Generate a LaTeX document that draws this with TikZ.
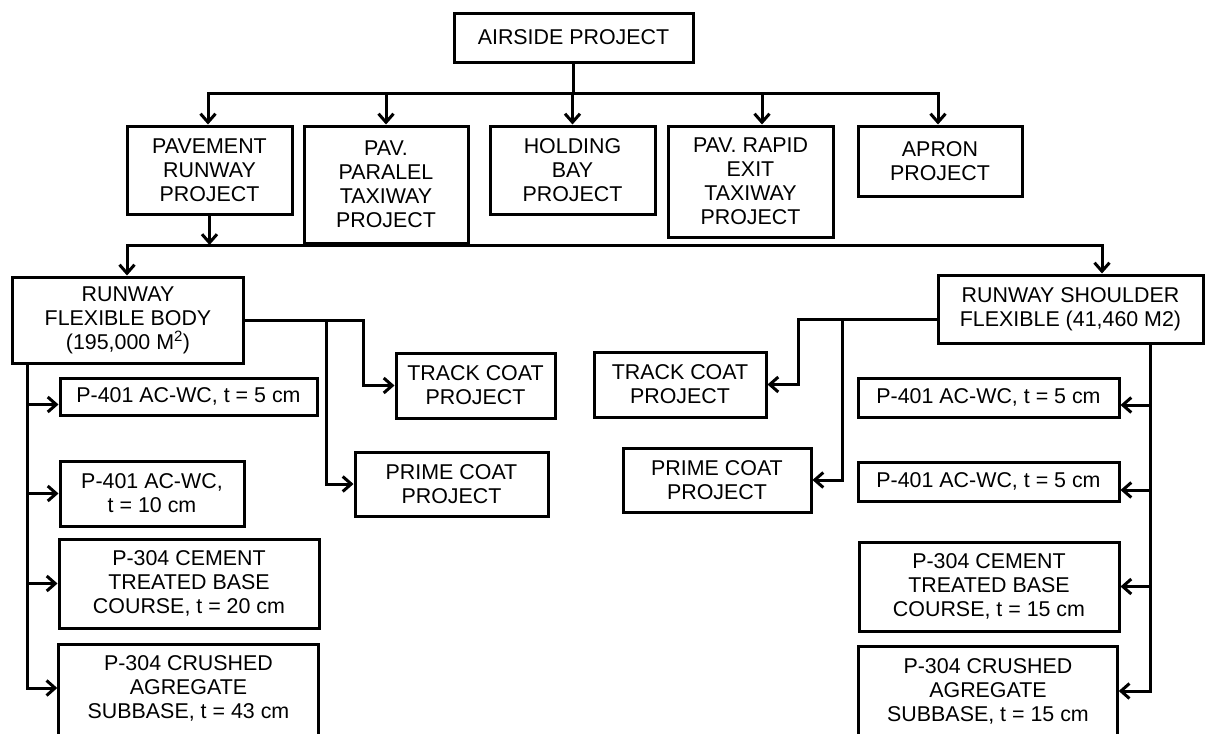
\documentclass[tikz,border=0pt]{standalone}
\usepackage{fontspec}
\setmainfont{Liberation Sans}
\usetikzlibrary{arrows.meta}
\begin{document}
\begin{tikzpicture}[x=1pt,y=-1pt,
  box/.style={draw, line width=3pt, inner sep=0pt, align=center, font=\fontsize{21.4}{24}\selectfont},
  txt/.style={inner sep=0pt, align=center, font=\fontsize{21.4}{24}\selectfont},
  conn/.style={line width=3pt, line cap=rect},
  arr/.style={conn, -{Straight Barb[length=8.5pt,width=15pt]}}]
\clip (0,0) rectangle (1211,734);
\fill[white] (0,0) rectangle (1211,734);
% level 1
\node[box,minimum width=239pt,minimum height=49pt] (air) at (573.5,37.5) {AIRSIDE PROJECT};
% level 2
\node[box,minimum width=165pt,minimum height=88pt] (pav) at (209.5,170) {PAVEMENT\\RUNWAY\\PROJECT};
\node[box,minimum width=164pt,minimum height=117pt] (par) at (386,184.5) {PAV.\\PARALEL\\TAXIWAY\\PROJECT};
\node[box,minimum width=165pt,minimum height=88pt] (hold) at (572.5,170) {HOLDING\\BAY\\PROJECT};
\node[box,minimum width=165pt,minimum height=111pt] (rapid) at (750.5,181.5) {PAV. RAPID\\EXIT\\TAXIWAY\\PROJECT};
\node[box,minimum width=164pt,minimum height=70pt] (apron) at (940,161) {APRON\\PROJECT};
% level 3
\node[box,minimum width=231pt,minimum height=86pt] (rfb) at (128,320) {RUNWAY\\FLEXIBLE BODY\\(195,000 M\textsuperscript{2})};
\node[box,minimum width=265pt,minimum height=68pt] (rsf) at (1070.5,309) {RUNWAY SHOULDER\\FLEXIBLE (41,460 M2)};
\node[box,minimum width=159pt,minimum height=65pt] (tcL) at (475.5,385.5) {TRACK COAT\\PROJECT};
\node[box,minimum width=193pt,minimum height=64pt] (pcL) at (451.5,484) {PRIME COAT\\PROJECT};
\node[box,minimum width=172pt,minimum height=65pt] (tcR) at (680,384.5) {TRACK COAT\\PROJECT};
\node[box,minimum width=188pt,minimum height=64pt] (pcR) at (717,480) {PRIME COAT\\PROJECT};
% left layers
\node[box,minimum width=257pt,minimum height=37pt] (L1) at (188.5,396.5) {P-401 AC-WC, t = 5 cm};
\node[box,minimum width=184pt,minimum height=65pt] (L2) at (152,493.5) {P-401 AC-WC,\\t = 10 cm};
\node[box,minimum width=260pt,minimum height=89pt] (L3) at (189,583.5) {P-304 CEMENT\\TREATED BASE\\COURSE, t = 20 cm};
\node[txt,minimum width=259pt,minimum height=86pt] (L4) at (188.5,688) {P-304 CRUSHED\\AGREGATE\\SUBBASE, t = 43 cm};
\draw[line width=3pt] ([yshift=-30pt]L4.south west) -- (L4.north west) -- (L4.north east) -- ([yshift=-30pt]L4.south east);
% right layers
\node[box,minimum width=261pt,minimum height=39pt] (R1) at (988.5,397.5) {P-401 AC-WC, t = 5 cm};
\node[box,minimum width=261pt,minimum height=39pt] (R2) at (988.5,481.5) {P-401 AC-WC, t = 5 cm};
\node[box,minimum width=260pt,minimum height=89pt] (R3) at (989,586.5) {P-304 CEMENT\\TREATED BASE\\COURSE, t = 15 cm};
\node[txt,minimum width=258pt,minimum height=88pt] (R4) at (988,691) {P-304 CRUSHED\\AGREGATE\\SUBBASE, t = 15 cm};
\draw[line width=3pt] ([yshift=-30pt]R4.south west) -- (R4.north west) -- (R4.north east) -- ([yshift=-30pt]R4.south east);
% bus 1
\coordinate (b1) at (573.5,93);
\coordinate (b1L) at (208,93);
\coordinate (b1R) at (938,93);
\coordinate (b1r) at (762,93);
\draw[conn] (air.south) -- (b1);
\draw[conn] (b1L) -- (b1R);
\draw[arr] (b1L) -- (b1L |- pav.north);
\draw[arr] (par.north |- b1) -- (par.north);
\draw[arr] (hold.north |- b1) -- (hold.north);
\draw[arr] (b1r) -- (b1r |- rapid.north);
\draw[arr] (b1R) -- (b1R |- apron.north);
% bus 2
\coordinate (b2m) at (209.5,245);
\coordinate (b2L) at (127,245);
\coordinate (b2R) at (1102,245);
\draw[arr] (pav.south) -- (b2m);
\draw[conn] (b2L) -- (b2R);
\draw[arr] (b2L) -- (b2L |- rfb.north);
\draw[arr] (b2R) -- (b2R |- rsf.north);
% left coats
\coordinate (jL) at (326,320);
\draw[arr] (rfb.east) -| ([xshift=-31pt]tcL.west) -- (tcL.west);
\draw[arr] (jL) |- (pcL.west);
% right coats
\coordinate (r0) at ([yshift=-10pt]rsf.west);
\coordinate (jR) at (842,319);
\draw[arr] (r0) -| ([xshift=31pt]tcR.east) -- (tcR.east);
\draw[arr] (jR) |- (pcR.east);
% left spine
\coordinate (sL) at ([xshift=16.5pt]rfb.south west);
\draw[conn] (sL) -- (sL |- L4.west);
\coordinate (l1) at ([yshift=-8pt]L1.west);
\draw[arr] (l1 -| sL) -- (l1);
\draw[arr] (L2.west -| sL) -- (L2.west);
\draw[arr] (L3.west -| sL) -- (L3.west);
\draw[arr] (L4.west -| sL) -- ([xshift=-1.5pt]L4.west);
% right spine
\coordinate (sR) at ([xshift=-54pt]rsf.south east);
\draw[conn] (sR) -- (sR |- R4.east);
\coordinate (r1) at ([yshift=-7.5pt]R1.east);
\coordinate (r2) at ([yshift=-8.5pt]R2.east);
\draw[arr] (r1 -| sR) -- (r1);
\draw[arr] (r2 -| sR) -- (r2);
\draw[arr] (R3.east -| sR) -- (R3.east);
\draw[arr] (R4.east -| sR) -- ([xshift=1.5pt]R4.east);
\end{tikzpicture}
\end{document}
